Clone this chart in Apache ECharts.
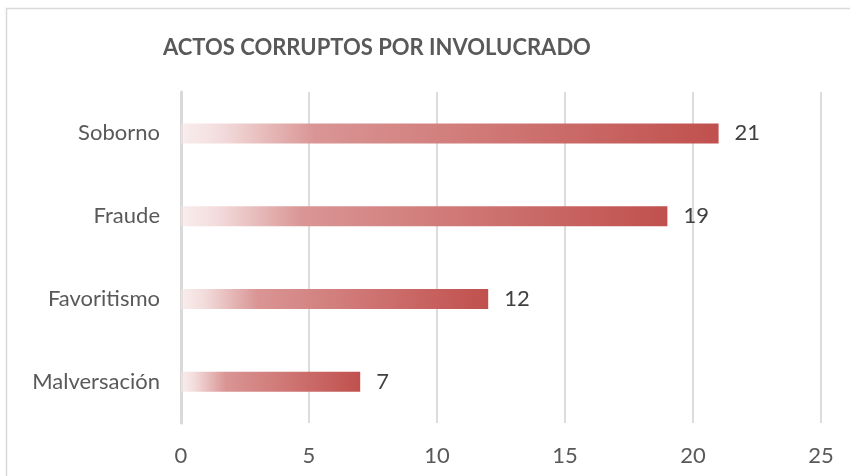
<!DOCTYPE html>
<html>
<head>
<meta charset="utf-8">
<script src="https://cdn.jsdelivr.net/npm/echarts@6/dist/echarts.min.js"></script>
<style>
  html, body { margin: 0; padding: 0; background: #fff; }
  #chart { width: 850px; height: 476px; }
</style>
</head>
<body>
<div id="chart"></div>
<script>
// datos
var categorias = ['Malversación', 'Favoritismo', 'Fraude', 'Soborno']
var valores = [7, 12, 19, 21]
var titulo = 'ACTOS CORRUPTOS POR INVOLUCRADO'

var fuente = 'Lato'

var chart = echarts.init(document.getElementById('chart'))

var option = {
  animation: false,
  backgroundColor: '#fff',
  title: {
    text: titulo,
    left: 158,
    top: 32,
    textStyle: {
      fontFamily: fuente,
      fontSize: 22,
      fontWeight: 'bold',
      color: '#595959',
    },
  },
  graphic: [
    {
      type: 'rect',
      shape: { x: 6.5, y: 8.5, width: 900, height: 500 },
      style: { fill: 'none', stroke: '#d9d9d9', lineWidth: 1.5 },
      silent: true,
    },
  ],
  grid: {
    left: 181,
    right: 29,
    top: 92,
    bottom: 53,
    containLabel: false,
  },
  xAxis: {
    type: 'value',
    min: 0,
    max: 25,
    interval: 5,
    axisLine: { show: false },
    axisTick: { show: false },
    axisLabel: {
      margin: 22,
      fontFamily: fuente,
      fontSize: 22,
      color: '#595959',
    },
    splitLine: {
      lineStyle: { color: '#d0d0d0', width: 1.5 },
    },
  },
  yAxis: {
    type: 'category',
    data: categorias,
    axisLine: {
      show: true,
      lineStyle: { color: '#d9d9d9', width: 3 },
    },
    axisTick: { show: false },
    axisLabel: {
      margin: 21,
      fontFamily: fuente,
      fontSize: 22,
      color: '#595959',
    },
  },
  series: [
    {
      type: 'bar',
      data: valores,
      barWidth: 20,
      label: {
        show: true,
        position: 'right',
        distance: 16,
        fontFamily: fuente,
        fontSize: 22,
        color: '#404040',
      },
      itemStyle: {
        color: new echarts.graphic.LinearGradient(0, 0, 1, 0, [
          { offset: 0, color: 'rgba(245,225,225,0.6)' },
          { offset: 0.08, color: '#f2dada' },
          { offset: 0.25, color: '#d99594' },
          { offset: 0.55, color: '#d07a78' },
          { offset: 1, color: '#c0504d' },
        ]),
      },
    },
  ],
}

chart.setOption(option)

window.addEventListener('resize', function () {
  chart.resize()
})
</script>
</body>
</html>
